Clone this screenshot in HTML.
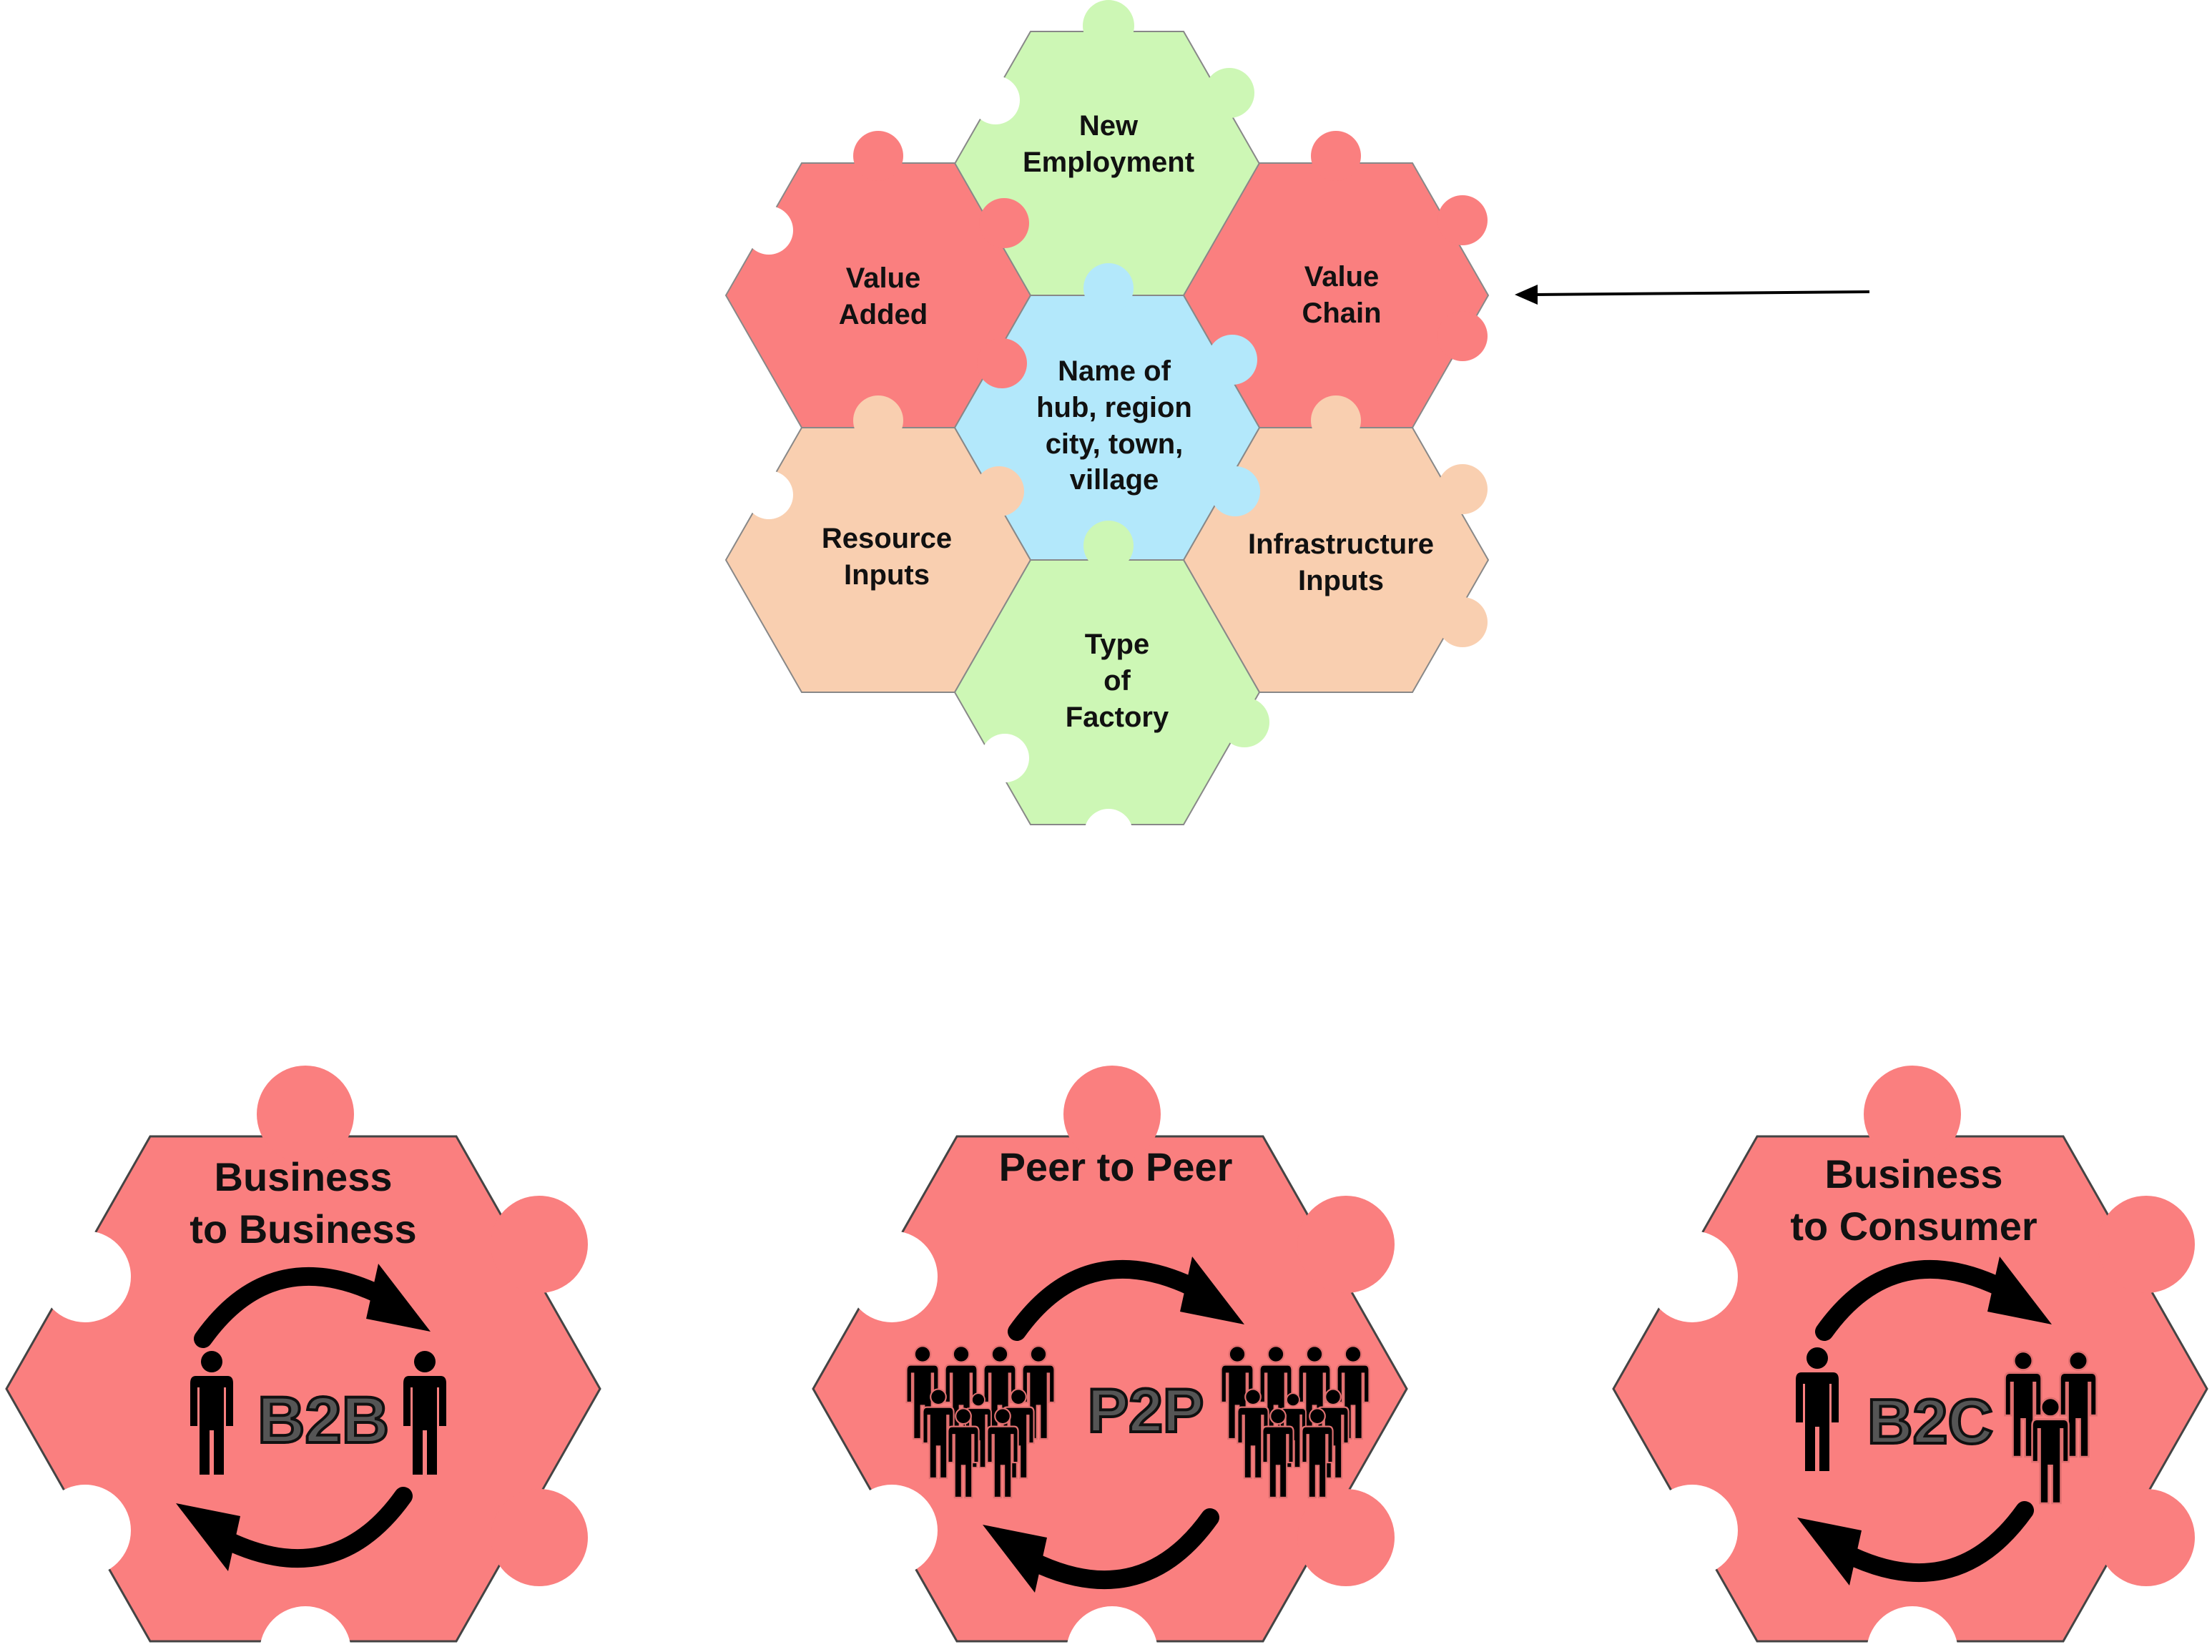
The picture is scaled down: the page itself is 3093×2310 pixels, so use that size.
<!DOCTYPE html>
<html><head><meta charset="utf-8"><style>html,body{margin:0;padding:0;background:#fff;overflow:hidden}svg{display:block}</style></head>
<body>
<svg width="3093" height="2310" viewBox="0 0 3093 2310" xmlns="http://www.w3.org/2000/svg" font-family="Liberation Sans, Arial, sans-serif" font-weight="bold">
<defs>
<g id="p"><circle cx="0" cy="-158" r="15"/><path d="M-22,-138 H22 Q30,-138 30,-128 V-68 H20 V-122 H17 V0 H3 V-62 H-3 V0 H-17 V-122 H-20 V-68 H-30 V-128 Q-30,-138 -22,-138 Z"/></g>
<g id="arr"><path d="M-140,-110 Q-40,-250 120,-165" fill="none" stroke="#000" stroke-width="26" stroke-linecap="round"/><polygon points="178,-120 105,-215 88,-138"/></g>
<g id="hx">
<polygon fill="#fa7f7f" stroke="#444" stroke-width="3" points="-214,-353 214,-353 415,0 214,353 -214,353 -415,0"/>
<g fill="#fa7f7f"><circle cx="3" cy="-384" r="68"/><circle cx="330" cy="-202" r="68"/><circle cx="330" cy="208" r="68"/></g>
<g fill="#fff"><circle cx="-305" cy="-157" r="64"/><circle cx="-305" cy="198" r="64"/><circle cx="3" cy="368" r="64"/></g>
</g>
</defs>
<!-- top cluster hexes -->
<g stroke="#888" stroke-width="2">
<polygon fill="#cdf7b5" points="1335,229 1441,44 1655,44 1761,229 1655,414 1441,414"/>
<polygon fill="#fa7f7f" points="1015,413 1121,228 1335,228 1441,413 1335,598 1121,598"/>
<polygon fill="#fa7f7f" points="1655,413 1761,228 1975,228 2081,413 1975,598 1761,598"/>
<polygon fill="#f9cfb0" points="1015,783 1121,598 1335,598 1441,783 1335,968 1121,968"/>
<polygon fill="#f9cfb0" points="1655,783 1761,598 1975,598 2081,783 1975,968 1761,968"/>
<polygon fill="#b3e8fb" points="1335,598 1441,413 1655,413 1761,598 1655,783 1441,783"/>
<polygon fill="#cdf7b5" points="1335,968 1441,783 1655,783 1761,968 1655,1153 1441,1153"/>
</g>
<g>
<circle cx="1550" cy="36" r="36" fill="#cdf7b5"/>
<circle cx="1719" cy="130" r="35" fill="#cdf7b5"/>
<circle cx="1228" cy="218" r="35" fill="#fa7f7f"/>
<circle cx="1404" cy="312" r="35" fill="#fa7f7f"/>
<circle cx="1401" cy="508" r="35" fill="#fa7f7f"/>
<circle cx="1868" cy="218" r="35" fill="#fa7f7f"/>
<circle cx="2045" cy="308" r="35" fill="#fa7f7f"/>
<circle cx="2045" cy="470" r="35" fill="#fa7f7f"/>
<circle cx="1550" cy="403" r="35" fill="#b3e8fb"/>
<circle cx="1723" cy="503" r="35" fill="#b3e8fb"/>
<circle cx="1727" cy="687" r="35" fill="#b3e8fb"/>
<circle cx="1228" cy="588" r="35" fill="#f9cfb0"/>
<circle cx="1397" cy="687" r="35" fill="#f9cfb0"/>
<circle cx="1868" cy="588" r="35" fill="#f9cfb0"/>
<circle cx="2045" cy="684" r="35" fill="#f9cfb0"/>
<circle cx="2045" cy="870" r="35" fill="#f9cfb0"/>
<circle cx="1550" cy="763" r="35" fill="#cdf7b5"/>
<circle cx="1740" cy="1010" r="35" fill="#cdf7b5"/>
<circle cx="1075" cy="322" r="34" fill="#fff"/>
<circle cx="1075" cy="692" r="34" fill="#fff"/>
<circle cx="1392" cy="140" r="34" fill="#fff"/>
<circle cx="1405" cy="1060" r="34" fill="#fff"/>
<circle cx="1550" cy="1165" r="34" fill="#fff"/>
</g>
<g font-size="40" text-anchor="middle" fill="#111">
<text x="1550" y="189">New</text><text x="1550" y="240">Employment</text>
<text x="1235" y="402">Value</text><text x="1235" y="453">Added</text>
<text x="1876" y="400">Value</text><text x="1876" y="451">Chain</text>
<text x="1558" y="532">Name of</text><text x="1558" y="583">hub, region</text><text x="1558" y="634">city, town,</text><text x="1558" y="684">village</text>
<text x="1240" y="766">Resource</text><text x="1240" y="817">Inputs</text>
<text x="1875" y="774">Infrastructure</text><text x="1875" y="825">Inputs</text>
<text x="1562" y="914">Type</text><text x="1562" y="965">of</text><text x="1562" y="1016">Factory</text>
</g>
<line x1="2614" y1="408" x2="2145" y2="412" stroke="#000" stroke-width="4"/>
<polygon points="2118,412 2150,398 2150,426" fill="#000"/>

<!-- bottom hexes -->
<g transform="translate(424,1942)"><use href="#hx"/></g>
<g transform="translate(1552,1942)"><use href="#hx"/></g>
<g transform="translate(2671,1942)"><use href="#hx"/></g>

<g font-size="56" text-anchor="middle" fill="#111">
<text x="424" y="1665">Business</text><text x="424" y="1738">to Business</text>
<text x="1560" y="1651">Peer to Peer</text>
<text x="2676" y="1661">Business</text><text x="2676" y="1734">to Consumer</text>
</g>

<!-- B2B icons -->
<g transform="translate(424,1982)">
<use href="#arr"/><g transform="rotate(180)"><use href="#arr"/></g>
<g transform="translate(-128,80)"><use href="#p"/></g>
<g transform="translate(170,80)"><use href="#p"/></g>
<text x="28" y="35" font-size="92" text-anchor="middle" fill="#555" stroke="#111" stroke-width="4">B2B</text>
</g>
<!-- P2P icons -->
<g transform="translate(1552,1982)">
<g transform="translate(10,-10)"><use href="#arr"/></g><g transform="rotate(180) translate(0,-30)"><use href="#arr"/></g>
<g stroke="#e07070" stroke-width="3">
<g transform="translate(-262,30) scale(0.75)"><use href="#p"/></g>
<g transform="translate(-208,30) scale(0.75)"><use href="#p"/></g>
<g transform="translate(-154,30) scale(0.75)"><use href="#p"/></g>
<g transform="translate(-100,30) scale(0.75)"><use href="#p"/></g>
<g transform="translate(-240,85) scale(0.72)"><use href="#p"/></g>
<g transform="translate(-128,85) scale(0.72)"><use href="#p"/></g>
<g transform="translate(-184,70) scale(0.6)"><use href="#p"/></g>
<g transform="translate(-205,112) scale(0.72)"><use href="#p"/></g>
<g transform="translate(-150,112) scale(0.72)"><use href="#p"/></g>
<g transform="translate(178,30) scale(0.75)"><use href="#p"/></g>
<g transform="translate(232,30) scale(0.75)"><use href="#p"/></g>
<g transform="translate(286,30) scale(0.75)"><use href="#p"/></g>
<g transform="translate(340,30) scale(0.75)"><use href="#p"/></g>
<g transform="translate(200,85) scale(0.72)"><use href="#p"/></g>
<g transform="translate(312,85) scale(0.72)"><use href="#p"/></g>
<g transform="translate(256,70) scale(0.6)"><use href="#p"/></g>
<g transform="translate(235,112) scale(0.72)"><use href="#p"/></g>
<g transform="translate(290,112) scale(0.72)"><use href="#p"/></g>
</g>
<text x="50" y="20" font-size="86" text-anchor="middle" fill="#555" stroke="#111" stroke-width="4">P2P</text>
</g>
<!-- B2C icons -->
<g transform="translate(2671,1982)">
<g transform="translate(20,-10)"><use href="#arr"/></g><g transform="rotate(180) translate(-20,-20)"><use href="#arr"/></g>
<g transform="translate(-130,75)"><use href="#p"/></g>
<g stroke="#e07070" stroke-width="3">
<g transform="translate(158,55) scale(0.85)"><use href="#p"/></g>
<g transform="translate(235,55) scale(0.85)"><use href="#p"/></g>
<g transform="translate(196,120) scale(0.85)"><use href="#p"/></g>
</g>
<text x="28" y="36" font-size="88" text-anchor="middle" fill="#555" stroke="#111" stroke-width="4">B2C</text>
</g>
</svg>
</body></html>
